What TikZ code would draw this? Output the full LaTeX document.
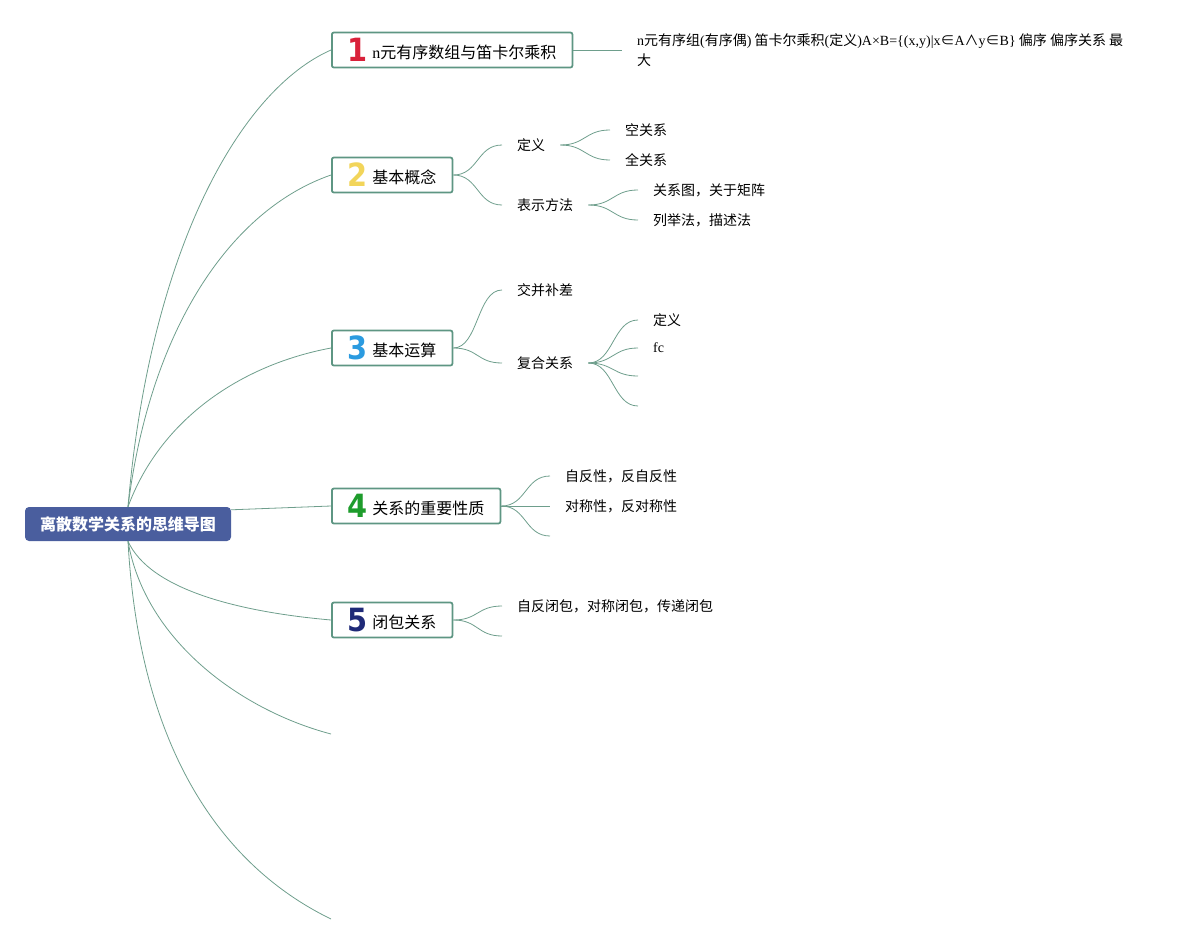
\documentclass[tikz,border=0pt]{standalone}
\usepackage{fontspec}
\setmainfont{Liberation Serif}
\newfontfamily\cjk{Noto Sans CJK SC}
\newfontfamily\numf{DejaVu Sans Condensed}
\usetikzlibrary{calc}
\definecolor{lnk}{HTML}{6E9E8C}
\definecolor{brd}{HTML}{5E9683}
\definecolor{rootc}{HTML}{4A5E9E}
\definecolor{n1}{HTML}{D9213A}
\definecolor{n2}{HTML}{F2D55A}
\definecolor{n3}{HTML}{2B9BE0}
\definecolor{n4}{HTML}{1E9C2C}
\definecolor{n5}{HTML}{1F2A78}
\newcommand\nbr[2]{\raisebox{-3.5pt}{\smash{\numf\bfseries\fontsize{32}{32}\selectfont\color{#1}#2}}\hspace{4.5pt}}
\begin{document}
\begin{tikzpicture}[x=1pt,y=-1pt,
  link/.style={draw=lnk,line width=0.8pt},
  mainbox/.style={draw=brd,line width=1.8pt,rounded corners=2pt,fill=white,anchor=west,
    minimum height=35pt,inner xsep=16pt,inner ysep=0pt,text height=16pt,text depth=0pt,
    font=\cjk\fontsize{16}{18}\selectfont},
  rootbox/.style={fill=rootc,rounded corners=4pt,text=white,minimum width=206pt,minimum height=34pt,
    inner sep=0pt,font=\cjk\bfseries\fontsize{16}{18}\selectfont},
  sub/.style={anchor=west,inner xsep=15pt,inner ysep=2pt,font=\cjk\fontsize{14}{17}\selectfont},
  longtxt/.style={anchor=west,inner xsep=15pt,inner ysep=0pt,align=left,font=\cjk\fontsize{14}{20}\selectfont}]
\useasboundingbox (0,0) rectangle (1197,945);

% root
\node[rootbox] (root) at (128,524) {离散数学关系的思维导图};

% main branches
\node[mainbox] (b1) at (331,50) {\nbr{n1}{1}{\rmfamily n}元有序数组与笛卡尔乘积};
\node[mainbox] (b2) at (331,175) {\nbr{n2}{2}基本概念};
\node[mainbox] (b3) at (331,348) {\nbr{n3}{3}基本运算};
\node[mainbox] (b4) at (331,506) {\nbr{n4}{4}关系的重要性质};
\node[mainbox] (b5) at (331,620) {\nbr{n5}{5}闭包关系};
\coordinate (e6) at (331,734);
\coordinate (e7) at (331,919);

\draw[link] (root.north) .. controls (150,250) and (240,90) .. (b1.west);
\draw[link] (root.north) .. controls (150,330) and (230,210) .. (b2.west);
\draw[link] (root.north) .. controls (160,420) and (240,365) .. (b3.west);
\draw[link] ($(root.north east)+(0,3)$) -- (b4.west);
\draw[link] (root.south) .. controls (150,590) and (240,612) .. (b5.west);
\draw[link] (root.south) .. controls (145,640) and (240,710) .. (e6);
\draw[link] (root.south) .. controls (140,760) and (230,870) .. (e7);

% branch 1
\node[longtxt] (L) at (622,50) {{\rmfamily n}元有序组{\rmfamily (}有序偶{\rmfamily )} 笛卡尔乘积{\rmfamily (}定义{\rmfamily )A×B=\{(x,y)|x}∈{\rmfamily A}∧{\rmfamily y}∈{\rmfamily B\}} 偏序 偏序关系 最\\大};
\draw[link] (b1.east) -- (L.west);

% branch 2
\node[sub] (s21) at (502,145) {定义};
\node[sub] (s22) at (502,205) {表示方法};
\node[sub] (s211) at (610,130) {空关系};
\node[sub] (s212) at (610,160) {全关系};
\node[sub] (s221) at (638,190) {关系图，关于矩阵};
\node[sub] (s222) at (638,220) {列举法，描述法};
\foreach \a/\b in {b2/s21,b2/s22,s21/s211,s21/s212,s22/s221,s22/s222}
  \draw[link] (\a.east) .. controls +(25,0) and +(-25,0) .. (\b.west);

% branch 3
\node[sub] (s31) at (502,290) {交并补差};
\node[sub] (s32) at (502,363) {复合关系};
\node[sub] (s321) at (638,320) {定义};
\node[sub] (s322) at (638,348) {{\rmfamily fc}};
\coordinate (e323) at (638,376);
\coordinate (e324) at (638,406);
\foreach \a/\b in {b3/s31,b3/s32,s32/s321,s32/s322}
  \draw[link] (\a.east) .. controls +(25,0) and +(-25,0) .. (\b.west);
\draw[link] (s32.east) .. controls +(25,0) and +(-25,0) .. (e323);
\draw[link] (s32.east) .. controls +(25,0) and +(-25,0) .. (e324);

% branch 4
\node[sub] (s41) at (550,476) {自反性，反自反性};
\node[sub] (s42) at (550,506) {对称性，反对称性};
\coordinate (e43) at (550,536);
\foreach \a/\b in {b4/s41,b4/s42}
  \draw[link] (\a.east) .. controls +(25,0) and +(-25,0) .. (\b.west);
\draw[link] (b4.east) .. controls +(25,0) and +(-25,0) .. (e43);

% branch 5
\node[sub] (s51) at (502,606) {自反闭包，对称闭包，传递闭包};
\coordinate (e52) at (502,636);
\draw[link] (b5.east) .. controls +(25,0) and +(-25,0) .. (s51.west);
\draw[link] (b5.east) .. controls +(25,0) and +(-25,0) .. (e52);
\end{tikzpicture}
\end{document}
